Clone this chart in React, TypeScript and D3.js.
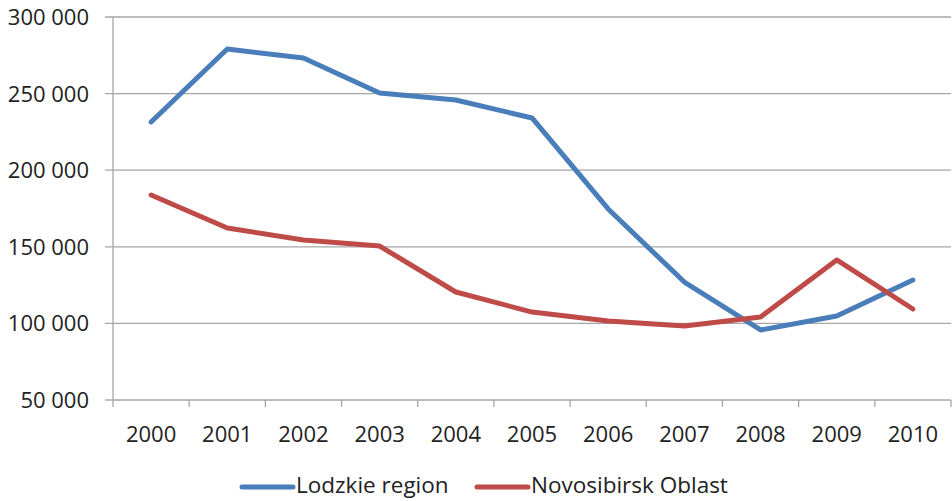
import React from 'react';
import * as d3 from 'd3';

// Chart data
const years = ['2000', '2001', '2002', '2003', '2004', '2005', '2006', '2007', '2008', '2009', '2010'];
const lodzkie = [231500, 279100, 273200, 250400, 245800, 234100, 174700, 127000, 95700, 104800, 128300];
const novosibirsk = [183800, 162300, 154400, 150500, 120500, 107400, 101600, 98300, 104200, 141400, 109400];
const yTicks = [50000, 100000, 150000, 200000, 250000, 300000];

const seriesNames = ['Lodzkie region', 'Novosibirsk Oblast'];
const seriesColors = ['#4a7ebb', '#be4b48'];

const App = () => {
  const width = 952;
  const height = 501;
  const margin = { top: 17, right: 1, bottom: 101, left: 113 };
  const innerW = width - margin.left - margin.right;
  const innerH = height - margin.top - margin.bottom;

  const xScale = d3.scaleBand().domain(years).range([0, innerW]);
  const yScale = d3.scaleLinear().domain([50000, 300000]).range([innerH, 0]);

  const line = d3.line<number>()
    .x((_, i) => (xScale(years[i]) ?? 0) + xScale.bandwidth() / 2)
    .y(d => yScale(d));

  const fmt = (v: number) => d3.format(',')(v).replace(/,/g, ' ');
  const font = '"Open Sans", "Noto Sans", sans-serif';
  const all = [lodzkie, novosibirsk];

  // legend layout
  const legendY = 487;
  const legendItems = [{ x: 242 }, { x: 477 }];

  return (
    <svg width={width} height={height} style={{ position: 'absolute', left: 0, top: 0, background: '#fff' }} fontFamily={font}>
      <g transform={`translate(${margin.left},${margin.top})`}>
        {/* gridlines + y labels */}
        {yTicks.map(t => (
          <g key={t} transform={`translate(0,${yScale(t)})`}>
            <line x1={-8} x2={innerW} stroke="#a6a6a6" strokeWidth={1.3} />
            <text x={-24} dy="0.36em" textAnchor="end" fontSize={22} fill="#222">{fmt(t)}</text>
          </g>
        ))}
        {/* y axis */}
        <line x1={0} x2={0} y1={0} y2={innerH + 7} stroke="#a6a6a6" strokeWidth={1.3} />
        {/* x ticks */}
        {years.map((y, i) => (
          <g key={y}>
            <line x1={xScale(y)! + xScale.bandwidth()} x2={xScale(y)! + xScale.bandwidth()} y1={innerH} y2={innerH + 7} stroke="#a6a6a6" strokeWidth={1.3} />
            <text x={xScale(y)! + xScale.bandwidth() / 2} y={innerH + 42} textAnchor="middle" fontSize={22} fill="#222">{y}</text>
          </g>
        ))}
        {/* series */}
        {all.map((s, i) => (
          <path key={i} d={line(s) ?? ''} fill="none" stroke={seriesColors[i]} strokeWidth={5} strokeLinejoin="round" strokeLinecap="round" />
        ))}
      </g>
      {/* legend */}
      {legendItems.map((l, i) => (
        <g key={i}>
          <line x1={l.x} x2={l.x + 51} y1={legendY} y2={legendY} stroke={seriesColors[i]} strokeWidth={5} strokeLinecap="round" />
          <text x={l.x + 54} y={493} fontSize={22.5} fill="#222">{seriesNames[i]}</text>
        </g>
      ))}
    </svg>
  );
};

export default App;
